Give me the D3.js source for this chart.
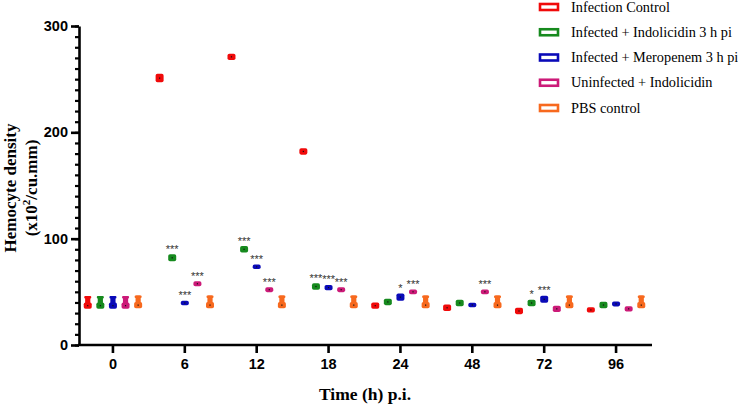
<!DOCTYPE html>
<html><head><meta charset="utf-8">
<script src="https://cdn.jsdelivr.net/npm/d3@7"></script>
<style>body{margin:0;background:#fff;} svg{display:block;}</style>
</head><body>
<svg id="c" width="738" height="406"></svg>
<script>
// ---- data ----
const categories = ["0","6","12","18","24","48","72","96"];
const seriesNames = ["Infection Control","Infected + Indolicidin 3 h pi","Infected + Meropenem 3 h pi","Uninfected + Indolicidin","PBS control"];
const seriesColors = ["#f00a0a","#168a1e","#0a0ab8","#cc1a78","#f7691e"];
const infectionControl = [37, 251, 271, 182, 37, 35, 32, 33];
const indolicidin      = [37, 82, 90, 55, 40.5, 39.5, 39.5, 37.6];
const meropenem        = [37, 39.5, 73.5, 54, 45, 37.6, 43, 38.6];
const uninfected       = [37, 57.6, 52, 52, 50, 50, 34, 34];
const pbs              = [37.5, 37.5, 37.5, 37.5, 37.5, 37.5, 37.5, 37.5];
const sdInfection   = [3, 4, 3, 3, 3, 3, 3, 2.5];
const sdIndolicidin = [3, 3.3, 3, 3, 3, 3, 3, 3];
const sdMeropenem   = [3, 2, 2, 2.5, 3.5, 2, 3.3, 2.3];
const sdUninfected  = [3, 2.3, 2.3, 2.3, 2.3, 2.3, 3, 2.5];
const sdPbs         = [3, 3, 3, 3, 3, 3, 3, 3];
const errInfection   = [9, 0, 0, 0, 0, 0, 0, 0];
const errIndolicidin = [9, 0, 0, 0, 0, 0, 0, 0];
const errMeropenem   = [9, 0, 0, 0, 0, 0, 0, 0];
const errUninfected  = [9, 0, 0, 0, 0, 0, 0, 0];
const errPbs         = [9, 9, 9, 9, 9, 9, 9, 9];
const sigInfection   = ["","","","","","","",""];
const sigIndolicidin = ["","***","***","***","","","*",""];
const sigMeropenem   = ["","***","***","***","*","","***",""];
const sigUninfected  = ["","***","***","***","***","***","",""];
const sigPbs         = ["","","","","","","",""];
const yTicks = [0,100,200,300];

const means = [infectionControl, indolicidin, meropenem, uninfected, pbs];
const sds = [sdInfection, sdIndolicidin, sdMeropenem, sdUninfected, sdPbs];
const errs = [errInfection, errIndolicidin, errMeropenem, errUninfected, errPbs];
const sigs = [sigInfection, sigIndolicidin, sigMeropenem, sigUninfected, sigPbs];

const svg = d3.select("#c");
const x = d3.scaleBand().domain(categories).range([77, 652]).padding(0);
const xs = d3.scalePoint().domain(seriesNames).range([-25.2, 25.2]);
const y = d3.scaleLinear().domain([0, 300]).range([345, 26]);
const axisX0 = 79;

// y axis minor
const gyMinor = svg.append("g").attr("transform", `translate(${axisX0},0)`)
  .call(d3.axisLeft(y).tickValues(d3.range(0, 301, 10)).tickSize(4).tickFormat(""));
gyMinor.select(".domain").remove();
gyMinor.selectAll("line").attr("stroke","#000").attr("stroke-width",2.2);
const gy = svg.append("g").attr("transform", `translate(${axisX0},0)`)
  .call(d3.axisLeft(y).tickValues(yTicks).tickSize(8).tickSizeOuter(0).tickPadding(3));
gy.select(".domain").attr("stroke","#000").attr("stroke-width",2.6);
gy.selectAll("line").attr("stroke","#000").attr("stroke-width",2.6);
gy.selectAll("text").attr("font-family","Liberation Sans, Arial, sans-serif").attr("font-weight","bold").attr("font-size",14.5).attr("fill","#000");

// x axis
const gx = svg.append("g").attr("transform", "translate(0,345)")
  .call(d3.axisBottom(x).tickSize(8).tickSizeOuter(0).tickPadding(6));
gx.select(".domain").attr("d", `M${axisX0-1},0H652`).attr("stroke","#000").attr("stroke-width",2.6);
gx.selectAll("line").attr("stroke","#000").attr("stroke-width",2.6);
gx.selectAll("text").attr("font-family","Liberation Sans, Arial, sans-serif").attr("font-weight","bold").attr("font-size",14.5).attr("fill","#000");

// marks
const pts = [];
seriesNames.forEach((s, si) => {
  categories.forEach((c, ci) => {
    pts.push({s, si, c, m: means[si][ci], sd: sds[si][ci], err: errs[si][ci], sig: sigs[si][ci]});
  });
});
const gm = svg.append("g");
pts.forEach(p => {
  const cx = x(p.c) + x.bandwidth()/2 + xs(p.s);
  const col = seriesColors[p.si];
  const y1 = y(p.m + p.sd), y2 = y(p.m - p.sd);
  let h = Math.max(4.5, y2 - y1);
  const yc = y(p.m);
  let top = yc - h/2;
  if (p.err > 0) {
    const ye = y(p.m + p.err);
    gm.append("rect").attr("x", cx-2.6).attr("y", ye).attr("width",5.2).attr("height", yc-ye).attr("fill", col).attr("rx",1);
    gm.append("rect").attr("x", cx-3.5).attr("y", ye).attr("width",7).attr("height", 2.5).attr("fill", col).attr("rx",1);
    top = Math.min(top, ye);
  }
  gm.append("rect").attr("x", cx-4).attr("y", yc-h/2).attr("width",8).attr("height",h).attr("rx",1.8).attr("fill", col);
  gm.append("rect").attr("x", cx-0.6).attr("y", yc-0.6).attr("width",1.2).attr("height",1.2).attr("fill","#111");
  if (p.sig) {
    gm.append("text").attr("x", cx).attr("y", top - 1.5).attr("text-anchor","middle")
      .attr("font-family","Liberation Sans, Arial, sans-serif").attr("font-size",11).attr("fill","#333").text(p.sig);
  }
});

// axis titles
const yt = svg.append("text").attr("transform","translate(16,188) rotate(-90)").attr("text-anchor","middle")
  .attr("font-family","Liberation Serif, Times New Roman, serif").attr("font-weight","bold").attr("font-size",17).attr("fill","#000");
yt.text("Hemocyte density");
const yt2 = svg.append("text").attr("transform","translate(37,188) rotate(-90)").attr("text-anchor","middle")
  .attr("font-family","Liberation Serif, Times New Roman, serif").attr("font-weight","bold").attr("font-size",17).attr("fill","#000");
yt2.append("tspan").text("(x10");
yt2.append("tspan").attr("dy",-7).attr("font-size",11).text("2");
yt2.append("tspan").attr("dy",7).text("/cu.mm)");
svg.append("text").attr("x",365).attr("y",400).attr("text-anchor","middle")
  .attr("font-family","Liberation Serif, Times New Roman, serif").attr("font-weight","bold").attr("font-size",17.5).attr("fill","#000")
  .text("Time (h) p.i.");

// legend
const legY = d3.scalePoint().domain(seriesNames).range([7, 108]);
const lg = svg.append("g");
seriesNames.forEach((s, i) => {
  const cy = legY(s);
  lg.append("rect").attr("x",540).attr("y",cy-3).attr("width",18).attr("height",6).attr("fill","#fff").attr("stroke",seriesColors[i]).attr("stroke-width",2.6);
  lg.append("text").attr("x",571).attr("y",cy+4.5).attr("font-family","Liberation Serif, Times New Roman, serif").attr("font-size",14.3).attr("fill","#000").text(s);
});
</script>
</body></html>
